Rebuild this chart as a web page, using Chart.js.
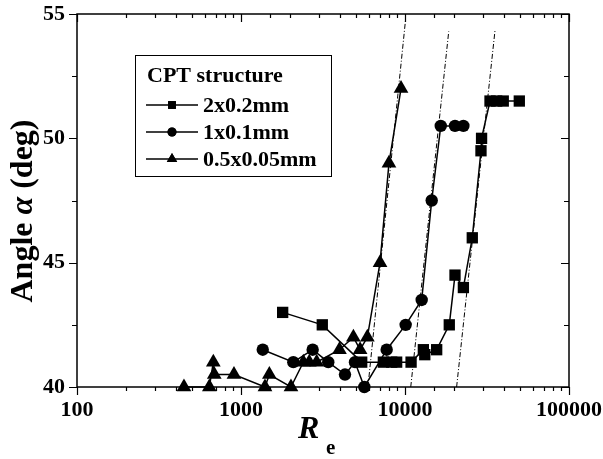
<!DOCTYPE html>
<html>
<head>
<meta charset="utf-8">
<script src="https://cdn.jsdelivr.net/npm/chart.js@4.4.0/dist/chart.umd.min.js"></script>
<style>
  html, body { margin: 0; padding: 0; background: #fff; }
  canvas { display: block; }
</style>
</head>
<body>
<canvas id="chart" width="603" height="459"></canvas>
<script>
const serif = '"Liberation Serif", "Times New Roman", serif';

// series (Re on a log axis, angle in degrees)
const seriesLabels = ['2x0.2mm', '1x0.1mm', '0.5x0.05mm'];
const seriesStyles = ['rect', 'circle', 'triangle'];

const reSquare = [1795, 3131, 5445, 7379, 8298, 8894, 10890, 12940, 13200, 15600, 18620, 20180, 22700, 25720, 29060, 29300, 32990, 36220, 39730, 49770];
const angleSquare = [43.0, 42.5, 41.0, 41.0, 41.0, 41.0, 41.0, 41.5, 41.3, 41.5, 42.5, 44.5, 44.0, 46.0, 49.5, 50.0, 51.5, 51.5, 51.5, 51.5];

const reCircle = [1357, 2085, 2735, 3404, 4306, 4955, 5649, 7732, 10090, 12640, 14550, 16520, 20180, 22700];
const angleCircle = [41.5, 41.0, 41.5, 41.0, 40.5, 41.0, 40.0, 41.5, 42.5, 43.5, 47.5, 50.5, 50.5, 50.5];

const reTriangle = [449, 641, 678, 687, 906, 1400, 1489, 2017, 2399, 2608, 2894, 3985, 4846, 5323, 5894, 7043, 7985, 9457];
const angleTriangle = [40.0, 40.0, 41.0, 40.5, 40.5, 40.0, 40.5, 40.0, 41.0, 41.0, 41.0, 41.5, 42.0, 41.5, 42.0, 45.0, 49.0, 52.0];

// dash-dot guide lines (start / end)
const fitRe = [[5943, 10090], [10840, 18480], [20640, 35400]];
const fitAngle = [[40, 54.8], [40, 54.3], [40, 54.35]];

const xTickLabels = [100, 1000, 10000, 100000];
const yTickLabels = [40, 45, 50, 55];

const pts = (xs, ys) => xs.map((x, i) => ({ x: x, y: ys[i] }));

const markerRadius = [8, 6.2, 8.5];

const datasets = [
  pts(reSquare, angleSquare),
  pts(reCircle, angleCircle),
  pts(reTriangle, angleTriangle)
].map((d, i) => ({
  label: seriesLabels[i],
  data: d,
  borderColor: '#000',
  backgroundColor: '#000',
  borderWidth: 1.5,
  pointStyle: seriesStyles[i],
  pointRadius: markerRadius[i],
  pointBorderWidth: 0,
  tension: 0,
  clip: false
}));

fitRe.forEach((xs, i) => {
  datasets.push({
    label: 'fit' + i,
    data: pts(xs, fitAngle[i]),
    borderColor: '#000',
    borderWidth: 1,
    borderDash: [5, 2, 1, 2],
    pointRadius: 0,
    clip: false
  });
});

const frame = {
  id: 'frame',
  afterDraw(chart) {
    const ctx = chart.ctx;
    const a = chart.chartArea;
    const xs = chart.scales.x, ys = chart.scales.y;
    ctx.save();
    ctx.strokeStyle = '#000';
    ctx.lineWidth = 1.5;
    ctx.strokeRect(a.left, a.top, a.right - a.left, a.bottom - a.top);

    // tick marks: bottom/left outward, top/right inward
    ctx.lineWidth = 1.2;
    ctx.beginPath();
    xs.ticks.forEach(t => {
      const p = Math.round(xs.getPixelForValue(t.value)) + 0.5;
      const major = xTickLabels.some(v => Math.abs(v - t.value) < v * 1e-6);
      const len = major ? 8 : 4;
      ctx.moveTo(p, a.bottom); ctx.lineTo(p, a.bottom + len);
      ctx.moveTo(p, a.top); ctx.lineTo(p, a.top + len);
    });
    for (let v = 40; v <= 55; v += 2.5) {
      const p = Math.round(ys.getPixelForValue(v)) + 0.5;
      const len = v % 5 === 0 ? 8 : 5;
      ctx.moveTo(a.left - len, p); ctx.lineTo(a.left, p);
      ctx.moveTo(a.right - len, p); ctx.lineTo(a.right, p);
    }
    ctx.stroke();

    // axis titles
    ctx.fillStyle = '#000';
    ctx.textBaseline = 'middle';
    const parts = [['bold 32px ' + serif, 'Angle '], ['italic bold 32px ' + serif, 'α'], ['bold 32px ' + serif, ' (deg)']];
    let total = 0;
    parts.forEach(p => { ctx.font = p[0]; total += ctx.measureText(p[1]).width; });
    ctx.translate(24, 211);
    ctx.rotate(-Math.PI / 2);
    let cx = -total / 2;
    ctx.textAlign = 'left';
    parts.forEach(p => { ctx.font = p[0]; ctx.fillText(p[1], cx, 0); cx += ctx.measureText(p[1]).width; });
    ctx.setTransform(1, 0, 0, 1, 0, 0);

    ctx.textBaseline = 'alphabetic';
    ctx.font = 'italic bold 32px ' + serif;
    ctx.fillText('R', 298, 438);
    ctx.font = 'bold 21px ' + serif;
    ctx.fillText('e', 326, 454);

    // legend box
    const lx = 135.5, ly = 55.5, lw = 196, lh = 121;
    ctx.fillStyle = '#fff';
    ctx.fillRect(lx, ly, lw, lh);
    ctx.lineWidth = 1;
    ctx.strokeRect(lx, ly, lw, lh);
    ctx.fillStyle = '#000';
    ctx.font = 'bold 22px ' + serif;
    ctx.fillText('CPT structure', 147, 82);
    const legendRadius = [5.5, 4.5, 6];
    seriesLabels.forEach((lab, i) => {
      const cy = 105 + i * 27;
      ctx.lineWidth = 1.5;
      ctx.beginPath();
      ctx.moveTo(146, cy); ctx.lineTo(198, cy);
      ctx.stroke();
      Chart.helpers.drawPoint(ctx, { pointStyle: seriesStyles[i], radius: legendRadius[i], borderWidth: 0, rotation: 0 }, 172, cy);
      ctx.fill();
      ctx.fillText(lab, 203, cy + 7);
    });
    ctx.restore();
  }
};

new Chart(document.getElementById('chart'), {
  type: 'line',
  data: { datasets: datasets },
  options: {
    responsive: false,
    animation: false,
    layout: { padding: { top: 14, right: 34, left: 0, bottom: 0 } },
    plugins: { legend: { display: false }, tooltip: { enabled: false } },
    scales: {
      x: {
        type: 'logarithmic',
        min: 100,
        max: 100000,
        grid: { display: false, drawTicks: false },
        border: { display: false },
        afterFit: s => { s.height = 72; s.paddingLeft = 0; s.paddingRight = 0; },
        ticks: {
          autoSkip: false,
          maxRotation: 0,
          padding: 10,
          color: '#000',
          font: { family: serif, size: 22, weight: 'bold' },
          callback: v => {
            const t = xTickLabels.find(l => Math.abs(l - v) < l * 1e-6);
            return t ? String(t) : '';
          }
        }
      },
      y: {
        min: 40,
        max: 55,
        grid: { display: false, drawTicks: false },
        border: { display: false },
        afterFit: s => { s.width = 77; s.paddingTop = 0; s.paddingBottom = 0; },
        ticks: {
          stepSize: 5,
          padding: 12,
          color: '#000',
          font: { family: serif, size: 22, weight: 'bold' },
          callback: v => yTickLabels.includes(v) ? String(v) : ''
        }
      }
    }
  },
  plugins: [frame]
});
</script>
</body>
</html>
